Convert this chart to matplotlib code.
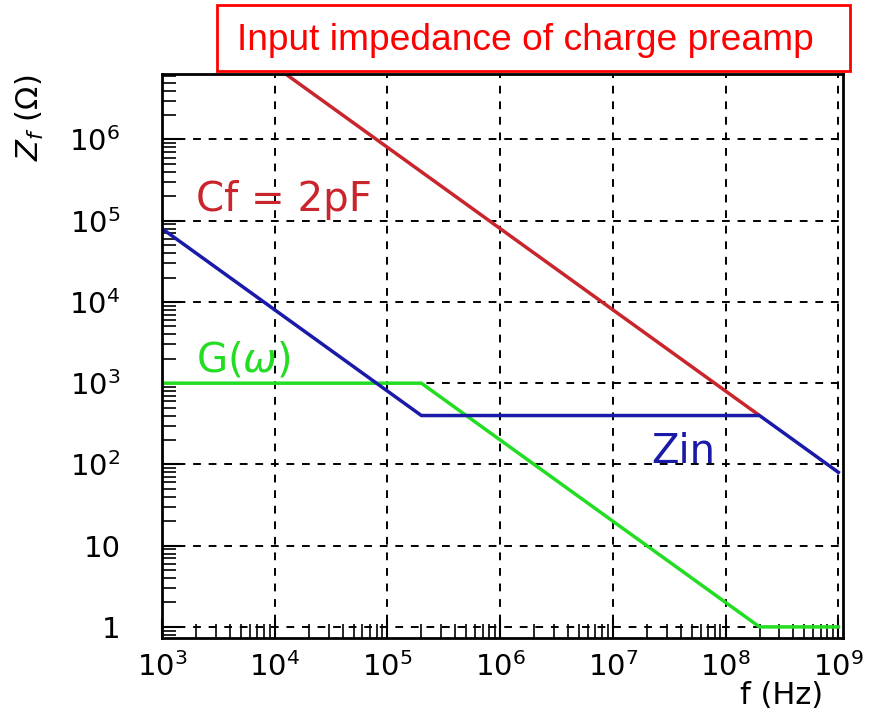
import matplotlib
matplotlib.use('Agg')
import matplotlib.pyplot as plt
from matplotlib.patches import Rectangle

# values (corner points of each piecewise line)
f_cf = [1e4, 2e8]
z_cf = [8e6, 400]

f_zin = [1e3, 2e5, 2e8, 1e9]
z_zin = [8e4, 400, 400, 80]

f_g = [1e3, 2e5, 2e8, 1e9]
z_g = [1000, 1000, 1, 1]

xticks = [1e3, 1e4, 1e5, 1e6, 1e7, 1e8, 1e9]
xlabels = [r'$\mathregular{10^{%d}}$' % e for e in range(3, 10)]
yticks = [1, 10, 1e2, 1e3, 1e4, 1e5, 1e6]
ylabels = ['1', '10'] + [r'$\mathregular{10^{%d}}$' % e for e in range(2, 7)]

fig = plt.figure(figsize=(8.94, 7.14), dpi=100, facecolor='w')
ax = fig.add_axes([162/894., 1-638/714., (843-162)/894., (638-74)/714.])

ax.plot(f_cf, z_cf, color='#c8252d', lw=2.5, solid_capstyle='butt')
ax.plot(f_g, z_g, color='#22dd22', lw=2.5)
ax.plot(f_zin, z_zin, color='#1a1aa8', lw=2.5)

ax.set_xscale('log')
ax.set_yscale('log')
ax.set_xlim(1e3, 1.1e9)
ax.set_ylim(0.73, 6.4e6)

ax.set_xticks(xticks)
ax.set_xticklabels(xlabels, fontsize=21)
ax.set_yticks(yticks)
ax.set_yticklabels(ylabels, fontsize=21)
ax.tick_params(which='major', direction='in', length=14, width=1.5, pad=10)
ax.tick_params(axis='y', which='major', pad=30)
ax.tick_params(which='minor', direction='in', length=10, width=1.2)
ax.grid(True, which='major', color='k', ls=(0, (4, 4)), lw=1.4)
for s in ax.spines.values():
    s.set_linewidth(2)

ax.text(2.0e3, 1.3e5, 'Cf = 2pF', color='#c8252d', fontsize=29)
ax.text(2.0e3, 1.4e3, 'G($\\omega$)', color='#22dd22', fontsize=29)
ax.text(2.2e7, 105, 'Zin', color='#1a1aa8', fontsize=29)

fig.text(30/894., 1-118/714., r'$Z_f\ (\Omega)$', rotation=90, fontsize=22,
         ha='center', va='center')
fig.text(782/894., 1-695/714., 'f (Hz)', fontsize=22, ha='center', va='center')

fig.patches.append(Rectangle((217/894., 1-71/714.), 633/894., 66/714.,
                             transform=fig.transFigure, fc='w', ec='red', lw=2))
fig.text(237/894., 1-40/714., 'Input impedance of charge preamp', color='red',
         fontsize=26.7, family='Liberation Sans', ha='left', va='center')

plt.savefig('out.png', dpi=100)
